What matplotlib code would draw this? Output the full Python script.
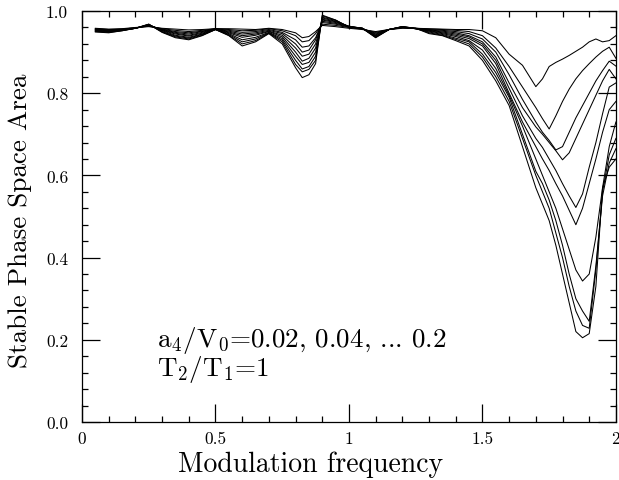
import matplotlib
matplotlib.use("Agg")
import matplotlib.pyplot as plt
from matplotlib.ticker import MultipleLocator, FixedLocator, FixedFormatter

plt.rcParams['font.family'] = 'cmr10'
plt.rcParams['mathtext.fontset'] = 'cm'
plt.rcParams['axes.formatter.use_mathtext'] = True

# modulation frequency grid
freq = [0.05, 0.1, 0.15, 0.2, 0.25, 0.3, 0.35, 0.4, 0.45, 0.5,
        0.55, 0.6, 0.65, 0.7, 0.75, 0.8, 0.825, 0.85, 0.875, 0.9,
        0.95, 1.0, 1.05, 1.1, 1.15, 1.2, 1.25, 1.3, 1.35, 1.4,
        1.45, 1.5, 1.55, 1.6, 1.65, 1.7, 1.725, 1.75, 1.775, 1.8,
        1.825, 1.85, 1.875, 1.9, 1.925, 1.95, 1.975, 2.0]

# stable phase space area, a4/V0 = 0.02 ... 0.2
a002 = [.958, .956, .957, .960, .962, .958, .956, .954, .955, .957,
        .957, .956, .955, .958, .955, .947, .935, .938, .950, .965,
        .962, .958, .955, .950, .955, .958, .958, .957, .956, .955,
        .955, .952, .935, .895, .868, .816, .835, .865, .875, .883,
        .892, .902, .912, .925, .932, .925, .928, .940]
a004 = [.957, .955, .956, .959, .963, .957, .953, .950, .953, .957,
        .955, .952, .953, .957, .952, .940, .925, .928, .945, .968,
        .965, .960, .956, .948, .955, .959, .958, .956, .955, .953,
        .950, .940, .910, .865, .815, .765, .738, .713, .745, .780,
        .810, .835, .855, .872, .888, .902, .912, .885]
a006 = [.956, .954, .956, .959, .964, .956, .950, .947, .951, .957,
        .953, .948, .950, .955, .948, .930, .912, .915, .935, .972,
        .968, .961, .957, .946, .955, .960, .958, .955, .953, .950,
        .945, .932, .900, .845, .785, .730, .705, .685, .662, .670,
        .705, .740, .770, .800, .830, .855, .878, .866]
a008 = [.955, .953, .955, .958, .965, .955, .948, .944, .950, .956,
        .951, .944, .947, .953, .945, .920, .900, .905, .930, .975,
        .970, .962, .957, .944, .955, .960, .957, .954, .951, .947,
        .940, .925, .888, .825, .765, .718, .700, .680, .660, .638,
        .655, .690, .725, .760, .795, .830, .858, .835]
a010 = [.954, .952, .954, .958, .966, .954, .946, .941, .948, .956,
        .949, .940, .944, .951, .941, .910, .890, .895, .920, .978,
        .972, .963, .958, .942, .955, .961, .957, .953, .949, .944,
        .937, .920, .880, .812, .745, .690, .668, .640, .612, .580,
        .550, .522, .555, .620, .680, .750, .815, .825]
a012 = [.953, .951, .954, .958, .966, .953, .944, .939, .946, .956,
        .947, .936, .941, .950, .937, .900, .878, .885, .910, .980,
        .974, .963, .958, .940, .955, .961, .957, .952, .947, .941,
        .933, .915, .872, .800, .730, .670, .640, .612, .580, .550,
        .515, .480, .520, .580, .640, .705, .760, .780]
a014 = [.952, .950, .953, .958, .967, .952, .941, .936, .944, .955,
        .945, .930, .936, .948, .933, .890, .870, .875, .900, .983,
        .975, .962, .958, .939, .955, .962, .957, .951, .945, .938,
        .928, .905, .860, .795, .720, .640, .600, .560, .520, .470,
        .420, .370, .343, .360, .450, .570, .670, .730]
a016 = [.951, .949, .953, .958, .967, .950, .939, .934, .943, .955,
        .943, .925, .932, .947, .929, .880, .859, .865, .890, .985,
        .977, .962, .958, .937, .955, .962, .957, .949, .943, .934,
        .925, .895, .850, .790, .700, .610, .580, .540, .490, .430,
        .360, .300, .270, .245, .380, .550, .630, .665]
a018 = [.950, .948, .952, .958, .968, .949, .937, .932, .941, .955,
        .941, .920, .928, .946, .925, .870, .852, .858, .880, .988,
        .978, .961, .958, .936, .955, .962, .958, .947, .941, .931,
        .920, .888, .840, .780, .690, .600, .560, .520, .460, .400,
        .330, .270, .235, .228, .370, .560, .650, .690]
a020 = [.949, .947, .952, .958, .968, .948, .935, .930, .940, .955,
        .940, .915, .925, .945, .920, .862, .838, .845, .872, .990,
        .978, .960, .958, .935, .955, .962, .958, .945, .940, .928,
        .915, .880, .830, .770, .670, .570, .530, .490, .430, .360,
        .290, .220, .205, .215, .330, .570, .620, .640]

curves = [a002, a004, a006, a008, a010, a012, a014, a016, a018, a020]

xticks = [0, 0.5, 1, 1.5, 2]
xticklabels = ['0', '0.5', '1', '1.5', '2']

fig = plt.figure(figsize=(6.19, 4.81), dpi=100)
ax = fig.add_axes([0.1325, 0.1206, 0.8625, 0.8544])

for c in curves:
    ax.plot(freq, c, color='black', lw=0.75)

ax.set_xlim(0, 2)
ax.set_ylim(0, 1)
ax.xaxis.set_major_locator(FixedLocator(xticks))
ax.xaxis.set_major_formatter(FixedFormatter(xticklabels))
ax.xaxis.set_minor_locator(MultipleLocator(0.1))
ax.yaxis.set_major_locator(MultipleLocator(0.2))
ax.yaxis.set_minor_locator(MultipleLocator(0.04))
ax.yaxis.set_major_formatter(plt.FuncFormatter(lambda v, p: '%.1f' % v))

ax.tick_params(which='both', direction='in', top=True, right=True,
               labelsize=12.5, width=0.9)
ax.tick_params(which='major', length=13)
ax.tick_params(which='minor', length=4.3)
ax.tick_params(axis='y', pad=10)
ax.tick_params(axis='x', pad=6)
for s in ax.spines.values():
    s.set_linewidth(0.9)

ax.set_xlabel('Modulation frequency', fontsize=20)
ax.xaxis.set_label_coords(0.429, -0.102)
ax.xaxis.label.set_va('center')
ax.set_ylabel('Stable Phase Space Area', fontsize=19.5)
ax.yaxis.set_label_coords(-0.116, 0.491)
ax.yaxis.label.set_va('center')

ax.text(0.28, 0.2, r'a$_4$/V$_0$=0.02, 0.04, ... 0.2', fontsize=19.5, va='center')
ax.text(0.28, 0.13, r'T$_2$/T$_1$=1', fontsize=19.5, va='center')

fig.savefig('out.png', dpi=100)
